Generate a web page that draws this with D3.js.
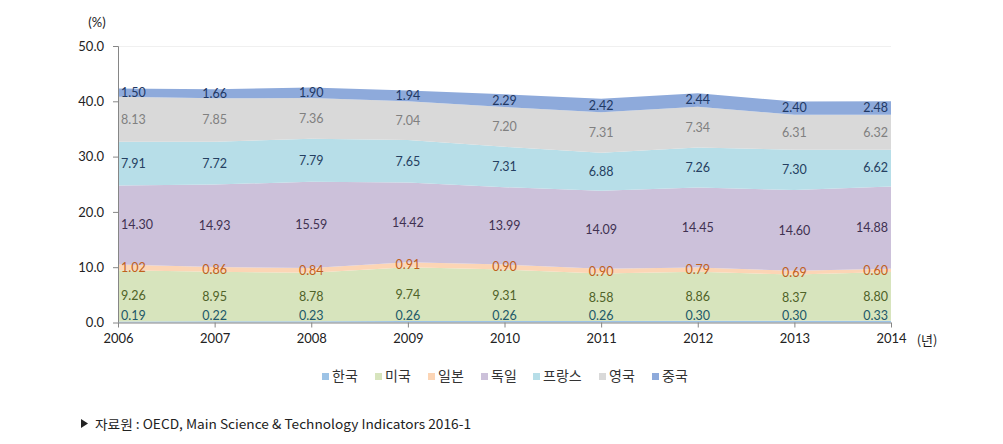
<!DOCTYPE html>
<html><head><meta charset="utf-8">
<script src="https://cdn.jsdelivr.net/npm/d3@7"></script>
<style>
html,body{margin:0;padding:0;background:#fff;}
svg{display:block;}
</style></head>
<body>
<svg id="c" width="1003" height="444"></svg>
<script>
const years = [2006, 2007, 2008, 2009, 2010, 2011, 2012, 2013, 2014];
const seriesNames = ["한국", "미국", "일본", "독일", "프랑스", "영국", "중국"];
const korea   = [0.19, 0.22, 0.23, 0.26, 0.26, 0.26, 0.30, 0.30, 0.33];
const usa     = [9.26, 8.95, 8.78, 9.74, 9.31, 8.58, 8.86, 8.37, 8.80];
const japan   = [1.02, 0.86, 0.84, 0.91, 0.90, 0.90, 0.79, 0.69, 0.60];
const germany = [14.30, 14.93, 15.59, 14.42, 13.99, 14.09, 14.45, 14.60, 14.88];
const france  = [7.91, 7.72, 7.79, 7.65, 7.31, 6.88, 7.26, 7.30, 6.62];
const uk      = [8.13, 7.85, 7.36, 7.04, 7.20, 7.31, 7.34, 6.31, 6.32];
const china   = [1.50, 1.66, 1.90, 1.94, 2.29, 2.42, 2.44, 2.40, 2.48];
const yTicks = [0, 10, 20, 30, 40, 50];
const yUnit = "(%)";
const xUnit = "(년)";
const sourceText = "자료원 : OECD, Main Science & Technology Indicators 2016-1";

const seriesValues = [korea, usa, japan, germany, france, uk, china];
const fills = ["#9dc3e6", "#d7e4bd", "#fcd5b5", "#ccc1da", "#b7dee8", "#d9d9d9", "#8eaadb"];
const labelColors = ["#215868", "#4f6228", "#c0601c", "#3f3151", "#254061", "#808080", "#1f3864"];

const table = years.map((y, i) => {
  const row = {year: y};
  seriesNames.forEach((n, k) => row[n] = seriesValues[k][i]);
  return row;
});

const svg = d3.select("#c");
const font = "Lato, 'Noto Sans', sans-serif";
const x0 = 118, x1 = 891, yTop = 46, yBot = 322.5;

const x = d3.scaleLinear().domain([years[0], years[years.length - 1]]).range([x0, x1]);
const y = d3.scaleLinear().domain([0, 50]).range([yBot, yTop]);

svg.append("line").attr("x1", x0).attr("x2", x1).attr("y1", yTop + 0.5).attr("y2", yTop + 0.5)
  .attr("stroke", "#f0f0f0").attr("stroke-width", 1);

const stack = d3.stack().keys(seriesNames);
const layers = stack(table);

const area = d3.area()
  .x(d => x(d.data.year))
  .y0(d => y(d[0]))
  .y1(d => y(d[1]));

svg.append("g").selectAll("path").data(layers).join("path")
  .attr("d", area)
  .attr("fill", (d, i) => fills[i]);

const yAxis = d3.axisLeft(y).tickValues(yTicks).tickFormat(d3.format(".1f")).tickSize(5).tickPadding(9);
const gy = svg.append("g").attr("transform", `translate(${x0},0)`).call(yAxis);
gy.select(".domain").attr("stroke", "#868686").attr("d", `M-5,${yTop}.5H0.5V${yBot}`);
gy.selectAll(".tick line").attr("stroke", "#868686");
gy.selectAll("text").attr("font-family", font).attr("font-size", 13).attr("fill", "#222");

const xAxis = d3.axisBottom(x).tickValues(years).tickFormat(d3.format("d")).tickSize(5).tickPadding(6);
const gx = svg.append("g").attr("transform", `translate(0,${yBot})`).call(xAxis);
gx.select(".domain").attr("stroke", "#868686").attr("d", `M${x0},0.5H${x1}`);
gx.selectAll(".tick line").attr("stroke", "#868686");
gx.selectAll("text").attr("font-family", font).attr("font-size", 13).attr("fill", "#222");

svg.append("text").attr("x", 97).attr("y", 27).attr("text-anchor", "middle")
  .attr("font-family", font).attr("font-size", 13).attr("fill", "#222").text(yUnit);
svg.append("text").attr("x", 927).attr("y", 345).attr("text-anchor", "middle")
  .attr("font-family", "'Noto Sans CJK KR', sans-serif").attr("font-size", 13).attr("fill", "#222").text(xUnit);

const fmt = d3.format(".2f");
const lg = svg.append("g");
layers.forEach((layer, k) => {
  layer.forEach((d, i) => {
    const v = seriesValues[k][i];
    let cy = y((d[0] + d[1]) / 2);
    cy = Math.min(cy, yBot - 7);
    let cx = x(d.data.year);
    let anchor = "middle";
    if (i === 0) { cx = x0 + 3; anchor = "start"; }
    if (i === years.length - 1) { cx = x1 - 3; anchor = "end"; }
    lg.append("text").attr("x", cx).attr("y", cy).attr("dy", "0.35em")
      .attr("text-anchor", anchor)
      .attr("font-family", font).attr("font-size", 12.5)
      .attr("fill", labelColors[k]).text(fmt(v));
  });
});

const legendX = [322, 375, 428, 481, 533, 599, 652];
const leg = svg.append("g");
seriesNames.forEach((n, k) => {
  leg.append("rect").attr("x", legendX[k]).attr("y", 373).attr("width", 7).attr("height", 7).attr("fill", fills[k]);
  leg.append("text").attr("x", legendX[k] + 10).attr("y", 376.5).attr("dy", "0.35em")
    .attr("font-family", "'Noto Sans CJK KR', sans-serif").attr("font-size", 14).attr("fill", "#333").text(n);
});

svg.append("path").attr("d", "M81,419 L88,423.5 L81,428 Z").attr("fill", "#222");
svg.append("text").attr("x", 95).attr("y", 424).attr("dy", "0.35em")
  .attr("font-family", "'Noto Sans CJK KR', sans-serif").attr("font-size", 13).attr("fill", "#222")
  .attr("textLength", 376).attr("lengthAdjust", "spacingAndGlyphs").text(sourceText);
</script>
</body></html>
